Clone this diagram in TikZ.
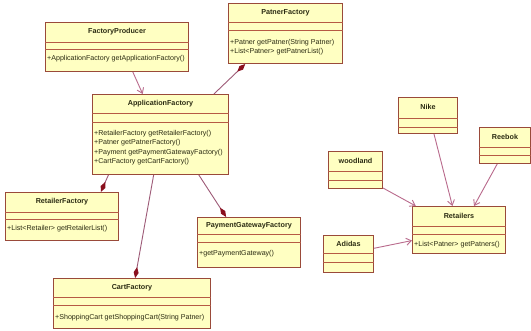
\documentclass[tikz,border=0pt]{standalone}
\usepackage{fontspec}
\setmainfont{Liberation Sans}
\usetikzlibrary{arrows.meta,calc,positioning}
\definecolor{UmlFill}{HTML}{FFFFC2}
\definecolor{UmlEdge}{HTML}{9A4A3A}
\definecolor{UmlRule}{HTML}{B65A44}
\definecolor{UmlLink}{HTML}{B96A8C}
\definecolor{UmlDiamond}{HTML}{8A0F1E}
\definecolor{UmlInk}{HTML}{2B2B12}
\tikzset{
  classbox/.style={
    draw=UmlEdge,
    fill=UmlFill,
    line width=1pt,
    anchor=north west,
    inner sep=0pt
  },
  title/.style={
    font=\fontsize{7.2}{8}\selectfont\bfseries,
    text=UmlInk,
    inner sep=0pt
  },
  ops/.style={
    font=\fontsize{7.1}{9.4}\selectfont,
    text=UmlInk,
    anchor=north west,
    align=left,
    inner sep=0pt
  },
  divider/.style={
    draw=UmlRule,
    line width=0.8pt
  },
  uses/.style={
    -{Straight Barb[length=5pt,width=7pt]},
    draw=UmlLink,
    line width=0.9pt
  },
  owns/.style={
    -{Diamond[length=11pt,width=5pt,color=UmlDiamond,fill=UmlDiamond]},
    draw=UmlLink!85!black,
    line width=0.9pt
  }
}

\begin{document}
\begin{tikzpicture}[x=1pt,y=-1pt]
  \fill[white] (0,0) rectangle (531,331);
  \useasboundingbox (0,0) rectangle (531,331);

  % Factory classes on the left.
  \node[classbox,minimum width=143,minimum height=49] (producer) at (45,22) {};
  \node[title] at ($(producer.north)+(0,10)$) {FactoryProducer};
  \draw[divider] ($(producer.north west)+(0,20)$) -- ($(producer.north east)+(0,20)$);
  \draw[divider] ($(producer.north west)+(0,27)$) -- ($(producer.north east)+(0,27)$);
  \node[ops] at ($(producer.north west)+(2,33)$) {+ApplicationFactory getApplicationFactory()};

  \node[classbox,minimum width=114,minimum height=60] (patner) at (228,3) {};
  \node[title] at ($(patner.north)+(0,10)$) {PatnerFactory};
  \draw[divider] ($(patner.north west)+(0,19)$) -- ($(patner.north east)+(0,19)$);
  \draw[divider] ($(patner.north west)+(0,27)$) -- ($(patner.north east)+(0,27)$);
  \node[ops] at ($(patner.north west)+(2,36)$)
    {+Patner getPatner(String Patner)\\+List<Patner> getPatnerList()};

  \node[classbox,minimum width=136,minimum height=80] (appfac) at (92,94) {};
  \node[title] at ($(appfac.north)+(0,10)$) {ApplicationFactory};
  \draw[divider] ($(appfac.north west)+(0,19)$) -- ($(appfac.north east)+(0,19)$);
  \draw[divider] ($(appfac.north west)+(0,28)$) -- ($(appfac.north east)+(0,28)$);
  \node[ops] at ($(appfac.north west)+(2,36)$)
    {+RetailerFactory getRetailerFactory()\\+Patner getPatnerFactory()\\
     +Payment getPaymentGatewayFactory()\\+CartFactory getCartFactory()};

  \node[classbox,minimum width=113,minimum height=48] (retailer) at (5,192) {};
  \node[title] at ($(retailer.north)+(0,10)$) {RetailerFactory};
  \draw[divider] ($(retailer.north west)+(0,20)$) -- ($(retailer.north east)+(0,20)$);
  \draw[divider] ($(retailer.north west)+(0,27)$) -- ($(retailer.north east)+(0,27)$);
  \node[ops] at ($(retailer.north west)+(2,33)$) {+List<Retailer> getRetailerList()};

  \node[classbox,minimum width=103,minimum height=50] (payment) at (197,217) {};
  \node[title] at ($(payment.north)+(0,9)$) {PaymentGatewayFactory};
  \draw[divider] ($(payment.north west)+(0,17)$) -- ($(payment.north east)+(0,17)$);
  \draw[divider] ($(payment.north west)+(0,25)$) -- ($(payment.north east)+(0,25)$);
  \node[ops] at ($(payment.north west)+(2,33)$) {+getPaymentGateway()};

  \node[classbox,minimum width=157,minimum height=50] (cart) at (53,278) {};
  \node[title] at ($(cart.north)+(0,10)$) {CartFactory};
  \draw[divider] ($(cart.north west)+(0,19)$) -- ($(cart.north east)+(0,19)$);
  \draw[divider] ($(cart.north west)+(0,27)$) -- ($(cart.north east)+(0,27)$);
  \node[ops] at ($(cart.north west)+(2,36)$) {+ShoppingCart getShoppingCart(String Patner)};

  % Brands and the Retailers class on the right.
  \node[classbox,minimum width=59,minimum height=36] (nike) at (398,97) {};
  \node[title] at ($(nike.north)+(0,10)$) {Nike};
  \draw[divider] ($(nike.north west)+(0,21)$) -- ($(nike.north east)+(0,21)$);
  \draw[divider] ($(nike.north west)+(0,30)$) -- ($(nike.north east)+(0,30)$);

  \node[classbox,minimum width=51,minimum height=36] (reebok) at (479,127) {};
  \node[title] at ($(reebok.north)+(0,10)$) {Reebok};
  \draw[divider] ($(reebok.north west)+(0,20)$) -- ($(reebok.north east)+(0,20)$);
  \draw[divider] ($(reebok.north west)+(0,28)$) -- ($(reebok.north east)+(0,28)$);

  \node[classbox,minimum width=54,minimum height=37] (woodland) at (328,151) {};
  \node[title] at ($(woodland.north)+(0,10)$) {woodland};
  \draw[divider] ($(woodland.north west)+(0,20)$) -- ($(woodland.north east)+(0,20)$);
  \draw[divider] ($(woodland.north west)+(0,29)$) -- ($(woodland.north east)+(0,29)$);

  \node[classbox,minimum width=93,minimum height=47] (retailers) at (412,206) {};
  \node[title] at ($(retailers.north)+(0,10)$) {Retailers};
  \draw[divider] ($(retailers.north west)+(0,20)$) -- ($(retailers.north east)+(0,20)$);
  \draw[divider] ($(retailers.north west)+(0,28)$) -- ($(retailers.north east)+(0,28)$);
  \node[ops] at ($(retailers.north west)+(2,35)$) {+List<Patner> getPatners()};

  \node[classbox,minimum width=50,minimum height=37] (adidas) at (323,235) {};
  \node[title] at ($(adidas.north)+(0,9)$) {Adidas};
  \draw[divider] ($(adidas.north west)+(0,18)$) -- ($(adidas.north east)+(0,18)$);
  \draw[divider] ($(adidas.north west)+(0,27)$) -- ($(adidas.north east)+(0,27)$);

  % Associations between the factories.
  \draw[uses] ($(producer.south west)!0.61!(producer.south east)$) --
    ($(appfac.north west)!0.37!(appfac.north east)$);
  \draw[owns] ($(appfac.north west)!0.89!(appfac.north east)$) --
    ($(patner.south west)!0.15!(patner.south east)$);
  \draw[owns] ($(appfac.south west)!0.12!(appfac.south east)$) --
    ($(retailer.north west)!0.84!(retailer.north east)$);
  \draw[owns] ($(appfac.south west)!0.45!(appfac.south east)$) --
    ($(cart.north west)!0.52!(cart.north east)$);
  \draw[owns] ($(appfac.south west)!0.78!(appfac.south east)$) --
    ($(payment.north west)!0.28!(payment.north east)$);

  % Every brand points at Retailers.
  \draw[uses] ($(nike.south west)!0.6!(nike.south east)$) --
    ($(retailers.north west)!0.43!(retailers.north east)$);
  \draw[uses] ($(reebok.south west)!0.35!(reebok.south east)$) --
    ($(retailers.north west)!0.66!(retailers.north east)$);
  \draw[uses] ($(woodland.south east)+(0,-1)$) --
    ($(retailers.north west)!0.04!(retailers.north east)$);
  \draw[uses] ($(adidas.north east)!0.35!(adidas.south east)$) --
    ($(retailers.north west)!0.72!(retailers.south west)$);
\end{tikzpicture}
\end{document}
